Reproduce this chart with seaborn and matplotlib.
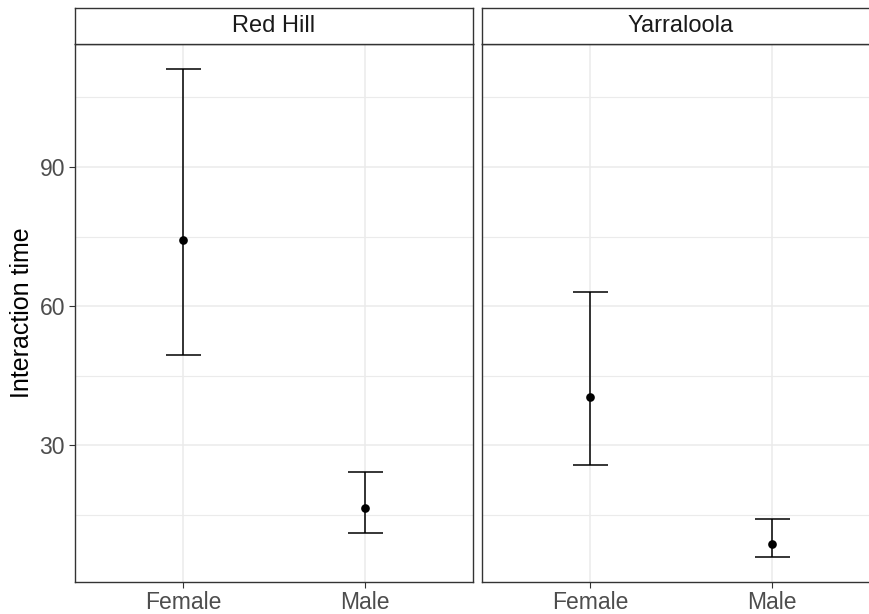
import numpy as np
import pandas as pd
import matplotlib
matplotlib.use("Agg")
import matplotlib.pyplot as plt
from matplotlib.ticker import FixedLocator
import seaborn as sns

# Mean interaction time with confidence limits, by site and sex
sites = ["Red Hill", "Yarraloola"]
sexes = ["Female", "Male"]
mean_time = {"Red Hill": [74.3, 16.4], "Yarraloola": [40.4, 8.7]}
lower_ci = {"Red Hill": [49.5, 11.0], "Yarraloola": [25.7, 5.8]}
upper_ci = {"Red Hill": [111.2, 24.2], "Yarraloola": [63.1, 14.1]}

y_major = [30, 60, 90]
y_minor = [15, 45, 75, 105]

rows = []
for s in sites:
    for i, sex in enumerate(sexes):
        rows.append({"site": s, "sex": sex, "mean": mean_time[s][i],
                     "lo": lower_ci[s][i], "hi": upper_ci[s][i]})
df = pd.DataFrame(rows)

sns.set_theme(style="white")
plt.rcParams["font.family"] = ["Liberation Sans", "DejaVu Sans"]

W, H = 869, 614
fig = plt.figure(figsize=(W / 100, H / 100), dpi=100)

grey20 = "#333333"
grey30 = "#4D4D4D"
grid_col = "#EBEBEB"

panel_top, panel_bot = 44.3, 581.7
panel_w = 398.6
lefts = [74.7, 481.7]
strip_top = 8.3

lo_all = df["lo"].min()
hi_all = df["hi"].max()
pad = (hi_all - lo_all) * 0.05
ylim = (lo_all - pad, hi_all + pad)

for k, site in enumerate(sites):
    ax = fig.add_axes([lefts[k] / W, 1 - panel_bot / H, panel_w / W,
                       (panel_bot - panel_top) / H])
    sub = df[df["site"] == site].reset_index(drop=True)
    xpos = np.arange(len(sub))
    yerr = np.vstack([sub["mean"] - sub["lo"], sub["hi"] - sub["mean"]])
    ax.errorbar(xpos, sub["mean"], yerr=yerr, fmt="none", ecolor="black",
                elinewidth=1.1, capsize=12.6, capthick=1.1, zorder=3)
    sns.pointplot(data=sub, x="sex", y="mean", order=sexes, color="black",
                  linestyle="none", markers="o", errorbar=None,
                  markersize=4.2, ax=ax, zorder=4)
    ax.set_xlim(-0.6, len(sexes) - 0.4)
    ax.set_ylim(*ylim)
    ax.yaxis.set_major_locator(FixedLocator(y_major))
    ax.yaxis.set_minor_locator(FixedLocator(y_minor))
    ax.set_axisbelow(True)
    ax.grid(True, which="major", axis="both", color=grid_col, linewidth=1.1)
    ax.grid(True, which="minor", axis="y", color=grid_col, linewidth=0.8)
    for sp in ax.spines.values():
        sp.set_visible(True)
        sp.set_color(grey20)
        sp.set_linewidth(1.0)
    ax.set_xlabel("")
    ax.set_ylabel("")
    ax.tick_params(axis="x", which="major", length=4, width=0.8, color=grey20,
                   labelsize=16.5, labelcolor=grey30, pad=2.5, bottom=True)
    ax.tick_params(axis="y", which="minor", length=0, left=False)
    if k == 0:
        ax.tick_params(axis="y", which="major", length=4, width=0.8,
                       color=grey20, labelsize=16.5, labelcolor=grey30,
                       pad=3, left=True)
    else:
        ax.tick_params(axis="y", which="major", length=0, labelleft=False)

    # facet strip
    sax = fig.add_axes([lefts[k] / W, 1 - panel_top / H, panel_w / W,
                        (panel_top - strip_top) / H])
    sax.set_xticks([])
    sax.set_yticks([])
    sax.set_facecolor("white")
    for sp in sax.spines.values():
        sp.set_visible(True)
        sp.set_color(grey20)
        sp.set_linewidth(1.0)
    sax.text(0.5, 0.5, site, ha="center", va="center", fontsize=17,
             color="#1A1A1A", transform=sax.transAxes)

fig.text(22 / W, 1 - 313 / H, "Interaction time", rotation=90,
         ha="center", va="center", fontsize=18, color="black")

fig.savefig("out.png", dpi=100)
